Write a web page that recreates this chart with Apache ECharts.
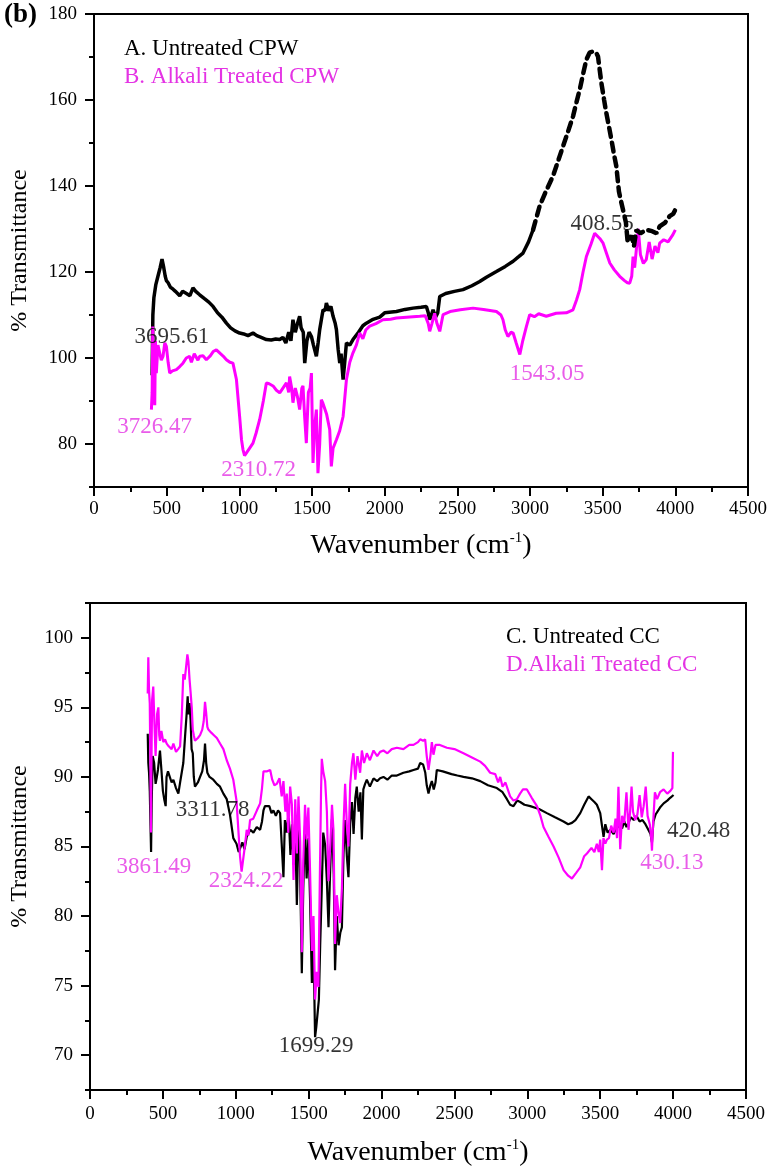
<!DOCTYPE html>
<html><head><meta charset="utf-8">
<script src="https://cdn.jsdelivr.net/npm/echarts@6/dist/echarts.min.js"></script>
<style>html,body{margin:0;padding:0;background:#fff}#c{width:774px;height:1176px}</style>
</head><body><div id="c"></div>
<script>
// ---------- Panel (b) top: CPW ----------
const topAX = [400,405,412,425,440,455,468,480,490,498,510,525,544,560,590,610,636,660,681,700,727,760,790,819,850,880,911,940,970,1002,1030,1060,1094,1120,1150,1186,1220,1250,1278,1300,1320,1340,1355,1369,1385,1400,1415,1425,1440,1450,1465,1480,1496,1510,1530,1542,1553,1565,1576,1590,1599,1615,1630,1645,1660,1668,1680,1691,1700,1714,1725,1737,1760,1782,1820,1850,1874,1920,1966,2000,2081,2140,2195,2250,2287,2300,2310,2322,2333,2350,2365,2379,2420,2480,2539,2600,2654,2700,2769,2830,2884,2920,2952,2990,3021,3066,3110,3158,3190,3227,3260,3296,3320,3342,3365,3388,3410,3433,3455,3468,3491,3510,3525,3545,3560,3580,3594,3612,3626,3640,3660,3672,3686,3700,3715,3732,3760,3800,3840,3870,3892,3930,3961,3985,4000];
const topAY = [96,110,114,117,119,121,123,121,119,118,117.5,116.5,116,115.5,114.5,115.5,115,114.5,116.3,115.5,114.7,113.8,113,112,110.5,109.5,108.1,107,106.3,105.8,105.6,105.2,105.8,105.2,104.8,104.3,104.2,104.4,104.3,104.8,103.5,106,104,108.9,106,108,109.7,107,106,98.8,104,106,105,103,100.4,103.5,106.6,109,111.2,111,112.8,111,112,109.7,108,106.6,102,98.8,101,95,99,103.5,103,104.3,106,107.5,108.1,109,109.5,110.5,110.8,111.3,111.6,111.8,112,110.5,108.9,110,111.2,109.5,110.5,114.3,115,115.5,115.9,116.8,117.8,118.8,120.1,121.3,122.5,123.5,124.4,127,129.8,135.3,138.8,142.3,145.5,149.2,152.5,156.2,159.5,162.4,166,169.4,171,171.3,171,170.1,164,160,157,153.5,150.8,147,144.6,138.7,136.5,134.5,131.5,127,127.5,128.5,126,129.8,129,129.8,129.5,129,130.6,131.5,133,133.5,134.5];
const topBX = [395,400,404,410,418,423,429,440,452,463,475,487,498,510,521,540,567,590,612,635,658,670,690,715,727,750,773,800,820,842,870,890,911,935,956,980,1002,1015,1025,1036,1048,1070,1094,1115,1140,1165,1186,1205,1232,1255,1278,1300,1324,1340,1346,1360,1369,1385,1400,1415,1430,1438,1450,1461,1475,1487,1496,1507,1518,1530,1541,1553,1564,1575,1587,1600,1622,1633,1645,1668,1690,1714,1737,1760,1782,1805,1828,1850,1870,1897,1940,1988,2040,2081,2150,2241,2280,2300,2310,2325,2344,2360,2379,2402,2450,2520,2608,2680,2769,2800,2814,2830,2848,2870,2884,2905,2930,2950,2975,2998,3030,3060,3112,3180,3250,3296,3320,3342,3365,3388,3420,3445,3457,3480,3503,3525,3549,3580,3617,3650,3670,3686,3700,3709,3720,3745,3760,3780,3800,3820,3840,3860,3880,3892,3920,3950,3980,4000];
const topBY = [88,92,107.3,98,89,104,96.5,103,102.7,99.5,100.4,103.5,102.7,99,96.5,97,97.3,98,98.8,100,100.4,99,101,99.5,100.4,100.5,99.6,100.5,101.5,101.9,101,100.4,99.6,99,98.8,95,86.4,81,78.7,77.3,77.5,79,80.2,82.5,85.7,90,94.2,94,93.5,92.5,91.9,93,94.2,92,95.7,93,89.6,93,91,88,93,93.5,86,80.2,92,93,96.5,75.6,84,88,73.2,80,90.3,89.5,89.6,87,83.3,74.8,79,81,83,86.4,95,99,101.2,103,105.8,104.5,106.5,107.4,108,108.9,109,109.3,109.5,109.7,109.8,108,106.2,108,110.4,108,106.2,110.1,110.8,111.2,111.6,111.3,110.8,110,108.9,106.5,105,106,105.8,103.5,100.8,104,107.3,110.1,109.6,110.3,109.7,110.4,110.5,111.2,113.5,115.9,120,123.6,126.5,129,128.7,127.8,126.7,124.5,122.1,120.5,119,118,117.5,117.4,119,123.6,121,130,124,122,122.9,127,123,126,124.5,126.7,127.5,127,128.5,129.8];
const topAnnText = ['3695.61','3726.47','2310.72','1543.05','408.55'];
const topAnnX = [535,418,1133,3118,3496];
const topAnnY = [105,84,74,96.3,131.2];
const topAnnIsB = [false,true,true,true,false];

// ---------- Bottom: CC ----------
const botCX = [396,400,405,410,415,419,423,430,440,450,457,466,480,490,500,509,519,525,535,548,560,572,590,606,618,628,640,652,662,670,675,683,690,697,705,712,720,740,755,770,782,789,797,805,820,846,870,892,915,938,960,983,1005,1020,1029,1045,1060,1075,1100,1121,1144,1167,1180,1190,1200,1213,1230,1245,1258,1275,1290,1304,1315,1327,1337,1350,1362,1375,1386,1397,1408,1419,1430,1440,1453,1463,1475,1486,1498,1510,1522,1533,1544,1552,1560,1570,1579,1590,1600,1613,1625,1636,1648,1660,1672,1681,1693,1705,1717,1728,1739,1750,1762,1773,1785,1797,1808,1820,1830,1843,1855,1865,1875,1887,1899,1920,1945,1970,1990,2013,2040,2070,2105,2150,2190,2219,2250,2265,2285,2300,2310,2322,2335,2345,2358,2370,2379,2420,2480,2520,2562,2620,2677,2730,2791,2830,2860,2882,2905,2930,2951,2980,3020,3080,3134,3190,3248,3280,3306,3330,3363,3390,3420,3440,3460,3477,3500,3512,3523,3535,3550,3570,3592,3610,3630,3650,3665,3680,3694,3710,3730,3750,3770,3790,3810,3830,3845,3855,3865,3880,3889,3910,3935,3960,3980,4003];
const botCY = [93.1,91,90.3,89,86.5,84.6,88,91.5,91,89.5,89.9,90.5,91.9,90.5,89,88.4,87.9,90,90.4,90.5,89.6,89.8,89.2,88.8,89.6,89.5,91,92.9,94.4,95.8,94.5,95.3,94.1,92,91.7,90,89.3,89.6,90,90.4,91.2,92.4,91,90.3,90,89.8,89.5,89.3,88.8,88.4,87.3,85.6,85.2,84.6,84.7,85.3,84.8,85.7,86.2,86,86.4,86.2,86.8,87.6,87.9,88,87.9,87.4,87.6,87.2,87.6,87.4,85.2,82.8,86.9,86,87.5,84.4,86.6,83.7,86.2,80.8,86.5,84.2,75.9,82,86.5,82.7,85.6,81,75.2,78,71.3,72,72.1,74,77.9,82,86,85.1,82.5,79.2,83.5,87,83,76.1,80,77.9,78.8,79.2,84.5,86.9,84.3,82.8,86.7,88.2,85.9,88.5,89.3,87.5,88.9,85.5,89.1,89.5,89.8,89.3,89.9,89.7,89.9,90,89.8,90.1,90.1,90.3,90.4,90.5,90.6,91,90.9,90.3,89.4,88.8,89.4,89.7,89.1,89.6,90.5,90.4,90.2,90.1,90,89.9,89.7,89.4,89.2,88.9,88.4,88,87.9,88.3,88.2,88,87.9,87.7,87.4,87.1,86.8,86.6,86.7,86.9,87.4,88,88.6,88.4,88.2,88,87.4,86.5,85.7,86.6,86,86.2,85.9,86.3,86.5,86.3,86.8,86.4,86.7,87.1,86.9,87.2,86.8,86.9,86.6,86.2,85.9,85.3,86.8,87.3,87.4,87.8,88.1,88.3,88.5,88.7];
const botDX = [396,400,405,410,415,418,421,426,434,442,450,460,469,475,480,490,503,515,526,540,560,572,590,605,618,630,640,650,660,668,675,683,690,698,705,712,720,740,755,770,780,789,796,805,812,830,850,870,892,915,938,960,983,1005,1020,1029,1040,1052,1062,1075,1087,1098,1120,1145,1167,1180,1190,1201,1215,1236,1250,1265,1281,1300,1315,1327,1340,1350,1360,1373,1385,1396,1408,1419,1430,1442,1453,1463,1475,1486,1498,1510,1522,1533,1544,1556,1567,1577,1585,1590,1600,1613,1625,1636,1648,1660,1670,1681,1693,1705,1716,1728,1739,1750,1762,1773,1785,1797,1807,1820,1835,1853,1865,1880,1899,1920,1945,1970,1990,2013,2040,2070,2105,2150,2190,2219,2250,2265,2285,2299,2310,2322,2335,2345,2356,2370,2400,2448,2500,2562,2620,2677,2710,2745,2780,2800,2814,2830,2850,2882,2905,2928,2950,2970,2997,3030,3066,3090,3111,3145,3180,3215,3249,3280,3306,3335,3363,3390,3409,3440,3460,3477,3490,3500,3512,3522,3535,3546,3560,3575,3592,3605,3615,3625,3637,3650,3665,3680,3694,3705,3715,3725,3740,3755,3770,3785,3798,3812,3825,3840,3850,3855,3862,3875,3890,3910,3935,3960,3981,3995,3999];
const botDY = [96,98.6,96.2,95.3,90,86,90.5,95.5,96.5,93.8,91.5,94.5,95,93,92.6,93.3,92.5,92.7,92.4,92.2,92,92.4,91.8,92,92.2,94.5,97.4,97,98,98.8,98.3,97,96.1,95,93.4,93,92.6,92.8,93,93.4,94,95.4,94.7,93.6,93.4,93.2,93,92.8,92.4,92,91.2,90.6,89.8,88.3,85.8,84.3,83.2,83.2,85,86.2,85.8,86.9,87,87.6,88.1,89.2,90.4,90.5,90.4,90.5,89.8,89.4,89.5,89.9,88.6,89.7,87.5,88.8,86,89.3,88,82.6,88.4,84.5,88.6,85.3,77.4,84,88,85.5,87.8,83,77.5,80,74,76,74.9,83,89,91.3,90.4,89.7,87.5,82.5,85,88,86.2,78,81.5,80.2,79.5,82,86.5,89.5,86.5,85,89.5,91,91.7,89.8,91.5,90.3,91.9,91,91.7,91.2,91.9,91.5,91.8,91.9,91.7,92,92.1,92,92.3,92.3,92.5,92.7,92.6,92.7,91.5,90.5,91.5,92.5,91.6,92.3,92.3,92.1,92,91.7,91.4,91.1,90.8,90.3,90.2,89.6,90,89.3,89.6,88.6,88.3,88.4,88.8,89.1,89.1,88.5,87.9,87.2,86.4,85.7,85,84.2,83.3,82.9,82.7,83.1,83.5,84.3,84.5,84.9,84.6,85.2,84.6,85.5,83.3,85.6,85.2,85.5,85.6,86.5,86,87,85.6,89.3,84.8,87.2,86.7,88.9,86.2,87.5,89.3,87.5,86.9,87.3,88.7,87.1,87.9,89.3,87.2,86.6,85.6,84.7,86.5,88.9,88.4,88.9,89.1,88.8,89,89.2,91.8];
const botAnnText = ['3311.78','3861.49','2324.22','1699.29','420.48','430.13'];
const botAnnX = [841,439,1071,1551,4175,3991];
const botAnnY = [87.6,83.55,82.5,70.7,86.1,83.8];
const botAnnIsD = [false,true,true,false,false,true];

const topYLabels = [80,100,120,140,160,180];
const botYLabels = [70,75,80,85,90,95,100];

// ---------- styling ----------
const FONT = '"Liberation Serif","Times New Roman",serif';
const BLACK = '#000000';
const MAG = '#ff00ff';
const MAGTXT = '#e433e4';

const zip = (xs, ys) => xs.map((x, i) => [x, ys[i]]);
const topA = zip(topAX, topAY);
const topASolid = topA.filter(p => p[0] <= 3021);
const topADash = topA.filter(p => p[0] >= 3021);

const chart = echarts.init(document.getElementById('c'), null, {renderer: 'canvas'});

function xAxisCfg(gi, margin, nameGap) {
  return {
    type: 'value', gridIndex: gi, min: 0, max: 4500, interval: 500,
    axisLine: {show: true, onZero: false, lineStyle: {color: BLACK, width: 2}},
    axisTick: {show: true, inside: false, length: 9, lineStyle: {color: BLACK, width: 2}},
    minorTick: {show: true, splitNumber: 2, length: 5, lineStyle: {color: BLACK, width: 2}},
    axisLabel: {color: BLACK, fontSize: 19, fontFamily: FONT, margin: margin, formatter: v => String(v)},
    splitLine: {show: false},
    name: '{a|Wavenumber (cm}{s|-1}{a|)}',
    nameLocation: 'middle', nameGap: nameGap,
    nameTextStyle: {
      rich: {
        a: {fontSize: 28, fontFamily: FONT, color: BLACK},
        s: {fontSize: 15, fontFamily: FONT, color: BLACK, verticalAlign: 'top', padding: [0, 0, 14, 0]}
      }
    }
  };
}
function yMainCfg(gi, min, max, labels, margin, nameGap) {
  return {
    type: 'value', gridIndex: gi, min: min, max: max, position: 'left',
    axisLine: {show: true, onZero: false, lineStyle: {color: BLACK, width: 2}},
    axisTick: {show: true, inside: false, length: 9, customValues: labels, lineStyle: {color: BLACK, width: 2}},
    axisLabel: {color: BLACK, fontSize: 19, fontFamily: FONT, margin: margin, customValues: labels, formatter: v => String(v)},
    splitLine: {show: false},
    name: '% Transmittance', nameLocation: 'middle', nameGap: nameGap, nameRotate: 90,
    nameTextStyle: {fontSize: 24, fontFamily: FONT, color: BLACK}
  };
}
function yMinorCfg(gi, min, max, interval) {
  return {
    type: 'value', gridIndex: gi, min: min, max: max, interval: interval, position: 'left', offset: 0,
    axisLine: {show: false},
    axisTick: {show: true, inside: false, length: 5, lineStyle: {color: BLACK, width: 2}},
    axisLabel: {show: false},
    splitLine: {show: false}
  };
}
function annSeries(xi, yi, texts, xs, ys, colorFlags) {
  return {
    type: 'scatter', xAxisIndex: xi, yAxisIndex: yi, symbolSize: 1, silent: true, z: 10,
    itemStyle: {color: 'rgba(0,0,0,0)'},
    data: texts.map((t, i) => ({
      value: [xs[i], ys[i]],
      label: {show: true, position: 'inside', formatter: t, fontSize: 23, fontFamily: FONT,
              color: colorFlags[i] ? MAGTXT : BLACK}
    }))
  };
}

const option = {
  animation: false,
  backgroundColor: '#ffffff',
  grid: [
    {left: 94, top: 14, right: 26, height: 473, show: true, borderColor: BLACK, borderWidth: 2, containLabel: false},
    {left: 90, top: 603, right: 28, height: 487, show: true, borderColor: BLACK, borderWidth: 2, containLabel: false}
  ],
  xAxis: [xAxisCfg(0, 13, 44), xAxisCfg(1, 15, 48)],
  yAxis: [
    yMainCfg(0, 70, 180, topYLabels, 17, 62),
    yMinorCfg(0, 70, 180, 10),
    yMainCfg(1, 67.5, 102.5, botYLabels, 17, 58),
    yMinorCfg(1, 67.5, 102.5, 2.5)
  ],
  legend: [
    {left: 114, top: 32, orient: 'vertical', icon: 'none', itemWidth: 0, itemHeight: 0, itemGap: 5, selectedMode: false,
     textStyle: {fontSize: 23, fontFamily: FONT},
     data: [{name: 'A. Untreated CPW', textStyle: {color: BLACK}}, {name: 'B. Alkali Treated CPW', textStyle: {color: MAGTXT}}]},
    {left: 496, top: 620, orient: 'vertical', icon: 'none', itemWidth: 0, itemHeight: 0, itemGap: 5, selectedMode: false,
     textStyle: {fontSize: 23, fontFamily: FONT},
     data: [{name: 'C. Untreated CC', textStyle: {color: BLACK}}, {name: 'D.Alkali Treated CC', textStyle: {color: MAGTXT}}]}
  ],
  graphic: [
    {type: 'text', left: 4, top: 2, style: {text: '(b)', font: 'bold 27px "Liberation Serif", serif', fill: BLACK}}
  ],
  series: [
    {name: 'A. Untreated CPW', type: 'line', xAxisIndex: 0, yAxisIndex: 0, showSymbol: false, data: topASolid,
     lineStyle: {color: BLACK, width: 3.5}, itemStyle: {color: BLACK}},
    {name: 'B. Alkali Treated CPW', type: 'line', xAxisIndex: 0, yAxisIndex: 0, showSymbol: false, data: zip(topBX, topBY),
     lineStyle: {color: MAG, width: 3}, itemStyle: {color: MAG}},
    {name: 'A. Untreated CPW', type: 'line', xAxisIndex: 0, yAxisIndex: 0, showSymbol: false, data: topADash,
     lineStyle: {color: BLACK, width: 4.5, type: [9, 6], cap: 'round'}, itemStyle: {color: BLACK}},
    annSeries(0, 0, topAnnText, topAnnX, topAnnY, topAnnIsB),
    {name: 'C. Untreated CC', type: 'line', xAxisIndex: 1, yAxisIndex: 2, showSymbol: false, data: zip(botCX, botCY),
     lineStyle: {color: BLACK, width: 2.2}, itemStyle: {color: BLACK}},
    {name: 'D.Alkali Treated CC', type: 'line', xAxisIndex: 1, yAxisIndex: 2, showSymbol: false, data: zip(botDX, botDY),
     lineStyle: {color: MAG, width: 2.2}, itemStyle: {color: MAG}},
    annSeries(1, 2, botAnnText, botAnnX, botAnnY, botAnnIsD)
  ]
};
chart.setOption(option);
</script>
</body></html>
